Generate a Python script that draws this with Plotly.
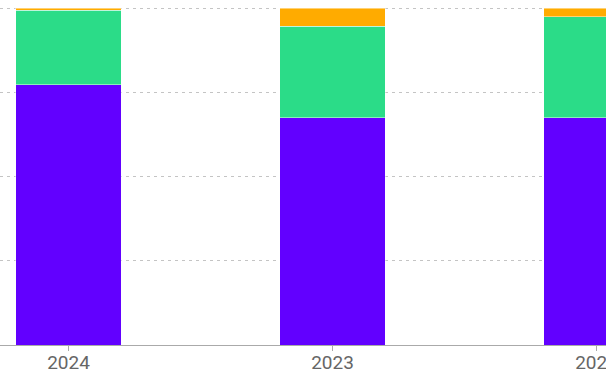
import plotly.graph_objects as go

years = ["2024", "2023", "2022"]
purple_vals = [77.2, 67.4, 67.5]
green_vals = [22.2, 27.2, 29.9]
orange_vals = [0.6, 5.4, 2.6]
series_names = ["A", "B", "C"]
series_colors = ["#6200ff", "#2bdc88", "#ffab00"]

x_range = [-0.2595, -0.2595 + 606 / 264]

fig = go.Figure()
for name, vals, col in zip(series_names, [purple_vals, green_vals, orange_vals], series_colors):
    fig.add_trace(go.Bar(
        x=years, y=vals, name=name,
        marker=dict(color=col, line=dict(color="rgba(255,255,255,0.45)", width=1)),
        width=0.4,
    ))

# invisible helper trace on a second x-axis that only carries the tick marks
fig.add_trace(go.Scatter(x=years, y=[None] * len(years), xaxis="x2", showlegend=False,
                         hoverinfo="skip", mode="markers"))

fig.update_layout(
    barmode="stack",
    width=606, height=375,
    margin=dict(l=0, r=0, t=6, b=30, autoexpand=False),
    paper_bgcolor="white", plot_bgcolor="white",
    showlegend=False,
    font=dict(family="Roboto, Arial, sans-serif", size=18, color="#666666"),
    xaxis=dict(
        type="category",
        range=x_range,
        automargin=False,
        showgrid=False,
        showline=True, linecolor="#aaaaaa", linewidth=1,
        ticks="",
        tickfont=dict(size=19, color="#666666"),
    ),
    xaxis2=dict(
        type="category",
        categoryarray=years, categoryorder="array",
        range=x_range,
        overlaying="x", anchor="y", side="bottom",
        automargin=False,
        showgrid=False, showline=False,
        ticks="outside", ticklen=5, tickcolor="#aaaaaa",
        showticklabels=False,
    ),
    yaxis=dict(
        range=[0, 100.6],
        automargin=False,
        tickvals=[0, 25, 50, 75, 100],
        showgrid=True, gridcolor="#c4c4c4", griddash="3px,4px", gridwidth=1,
        showticklabels=False, zeroline=False,
    ),
)

fig.write_html("out.html")
